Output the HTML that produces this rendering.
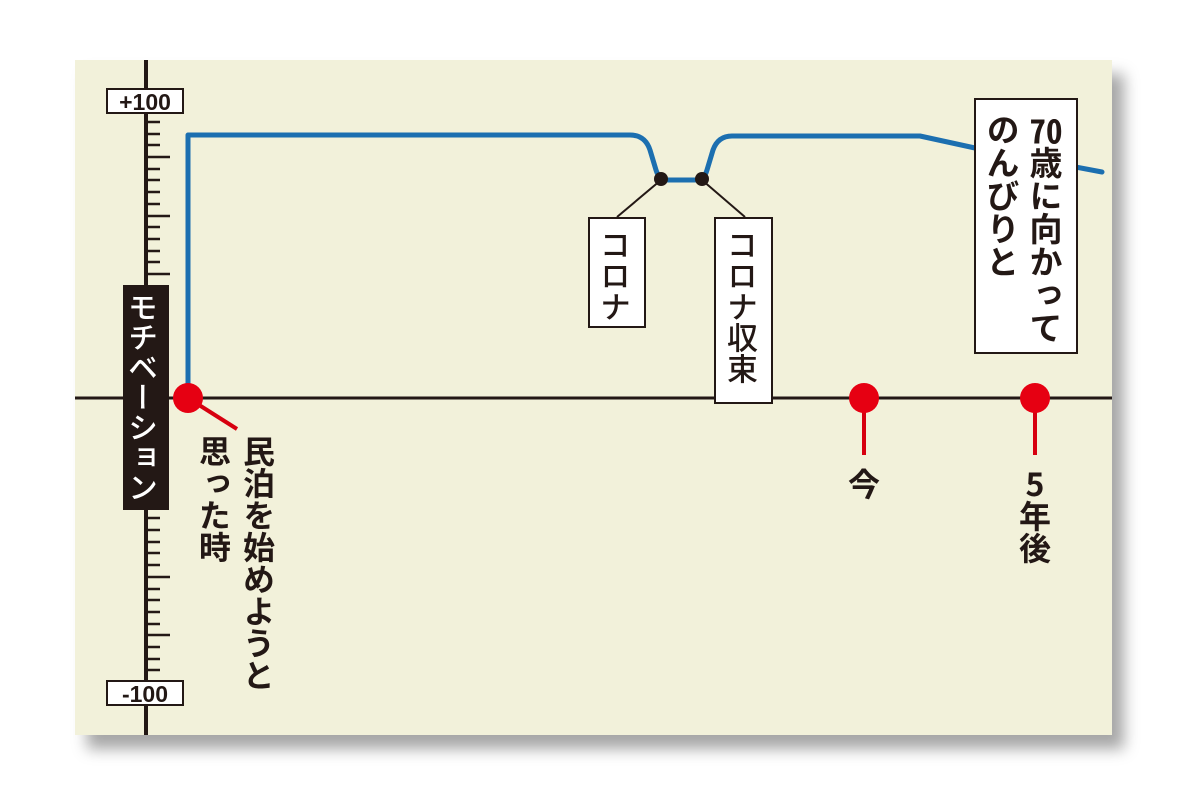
<!DOCTYPE html>
<html><head><meta charset="utf-8"><style>
html,body{margin:0;padding:0;background:#fff;}
body{width:1200px;height:810px;position:relative;overflow:hidden;font-family:"Liberation Sans","Noto Sans CJK JP",sans-serif;}
.v{position:absolute;writing-mode:vertical-rl;font-family:"Noto Sans CJK JP",sans-serif;font-weight:700;color:#231815;line-height:1;}
.tcu{text-combine-upright:all;}
.box{position:absolute;background:#fff;border:2px solid #231815;box-sizing:border-box;}
</style></head><body>
<div style="position:absolute;left:75px;top:60px;width:1037px;height:675px;background:#f2f1da;box-shadow:12px 14px 14px rgba(0,0,0,0.35);"></div>
<svg width="1200" height="810" style="position:absolute;left:0;top:0">
<line x1="75" y1="398" x2="1112" y2="398" stroke="#231815" stroke-width="3"/>
<line x1="146" y1="60" x2="146" y2="735" stroke="#231815" stroke-width="4"/>
<g stroke="#231815" stroke-width="2.5">
<line x1="146" y1="122" x2="160" y2="122"/><line x1="146" y1="134" x2="160" y2="134"/><line x1="146" y1="145" x2="160" y2="145"/><line x1="146" y1="157" x2="170" y2="157"/>
<line x1="146" y1="169" x2="160" y2="169"/><line x1="146" y1="180" x2="160" y2="180"/><line x1="146" y1="192" x2="160" y2="192"/><line x1="146" y1="204" x2="160" y2="204"/><line x1="146" y1="216" x2="170" y2="216"/>
<line x1="146" y1="227" x2="160" y2="227"/><line x1="146" y1="239" x2="160" y2="239"/><line x1="146" y1="251" x2="160" y2="251"/><line x1="146" y1="262" x2="160" y2="262"/><line x1="146" y1="274" x2="170" y2="274"/>
<line x1="146" y1="518" x2="160" y2="518"/><line x1="146" y1="530" x2="160" y2="530"/><line x1="146" y1="542" x2="160" y2="542"/><line x1="146" y1="553" x2="160" y2="553"/><line x1="146" y1="565" x2="160" y2="565"/><line x1="146" y1="577" x2="170" y2="577"/>
<line x1="146" y1="589" x2="160" y2="589"/><line x1="146" y1="600" x2="160" y2="600"/><line x1="146" y1="612" x2="160" y2="612"/><line x1="146" y1="624" x2="160" y2="624"/><line x1="146" y1="635" x2="170" y2="635"/>
<line x1="146" y1="647" x2="160" y2="647"/><line x1="146" y1="659" x2="160" y2="659"/><line x1="146" y1="670" x2="160" y2="670"/>
</g>
<rect x="107" y="89" width="76" height="24" fill="#fff" stroke="#231815" stroke-width="2"/>
<text x="145" y="110" text-anchor="middle" font-family="Liberation Sans" font-weight="bold" font-size="23" fill="#231815">+100</text>
<rect x="107" y="681" width="76" height="24" fill="#fff" stroke="#231815" stroke-width="2"/>
<text x="145" y="702" text-anchor="middle" font-family="Liberation Sans" font-weight="bold" font-size="23" fill="#231815">-100</text>
<rect x="123" y="285" width="46" height="225" fill="#231815"/>
<path d="M188 398 V135 H630 Q645 135 650 150 L656 170 Q659 180 668 180 H698 Q704 180 707 170 L713 150 Q718 136 732 136 H920 L975 148 L1102 172" fill="none" stroke="#1c6fb0" stroke-width="5" stroke-linejoin="round" stroke-linecap="round"/>
<line x1="661" y1="180" x2="617" y2="217" stroke="#231815" stroke-width="2"/>
<line x1="702" y1="180" x2="745" y2="217" stroke="#231815" stroke-width="2"/>
<circle cx="661" cy="179" r="7" fill="#231815"/>
<circle cx="702" cy="179" r="7" fill="#231815"/>
<line x1="188" y1="398" x2="237" y2="429" stroke="#d7000f" stroke-width="4"/>
<line x1="864" y1="398" x2="864" y2="455" stroke="#d7000f" stroke-width="4"/>
<line x1="1035" y1="398" x2="1035" y2="455" stroke="#d7000f" stroke-width="4"/>
<circle cx="188" cy="398" r="15" fill="#e60012"/>
<circle cx="864" cy="398" r="15" fill="#e60012"/>
<circle cx="1035" cy="398" r="15" fill="#e60012"/>
</svg>
<div class="v" style="left:128px;top:292px;font-size:30px;color:#fff;font-weight:500;">モチベーション</div>
<div class="box" style="left:588px;top:217px;width:58px;height:111px;"></div>
<div class="v" style="left:600px;top:229px;font-size:31px;font-weight:500;">コロナ</div>
<div class="box" style="left:714px;top:217px;width:59px;height:187px;"></div>
<div class="v" style="left:727px;top:229px;font-size:31px;font-weight:500;">コロナ収束</div>
<div class="box" style="left:974px;top:98px;width:104px;height:256px;"></div>
<div class="v" style="left:1029px;top:113px;font-size:33px;"><span class="tcu">70</span>歳に向かって</div>
<div class="v" style="left:986px;top:113px;font-size:33px;">のんびりと</div>
<div class="v" style="left:243px;top:435px;font-size:32px;">民泊を始めようと</div>
<div class="v" style="left:199px;top:435px;font-size:32px;">思った時</div>
<div class="v" style="left:848px;top:468px;font-size:32px;">今</div>
<div class="v" style="left:1019px;top:468px;font-size:32px;"><span style="text-orientation:upright">5</span>年後</div>
</body></html>
